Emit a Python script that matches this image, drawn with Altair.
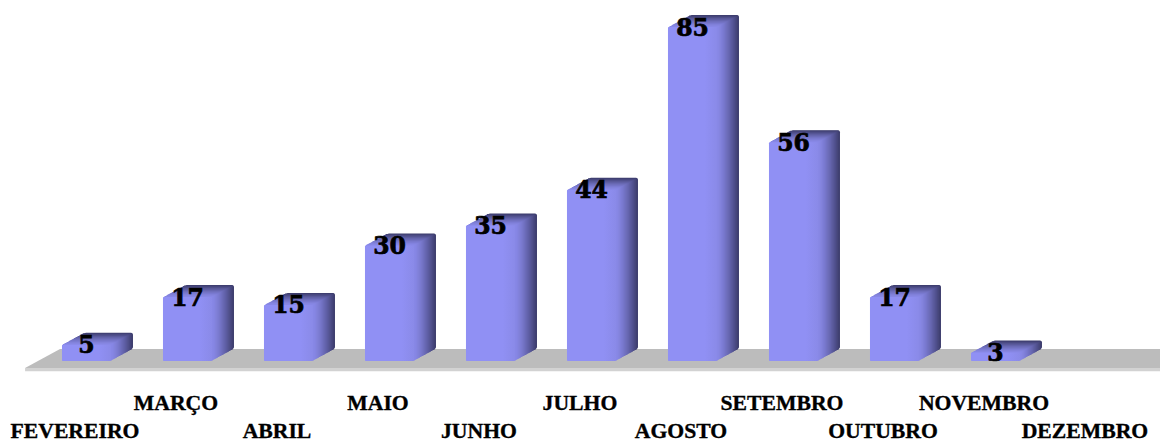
import altair as alt
import pandas as pd

months = ["FEVEREIRO", "MARÇO", "ABRIL", "MAIO", "JUNHO", "JULHO", "AGOSTO",
          "SETEMBRO", "OUTUBRO", "NOVEMBRO", "DEZEMBRO"]
values = [5, 17, 15, 30, 35, 44, 85, 56, 17, 3, None]
bar_base = 0.9  # visible foot of the 3D bars, in value units

# floor plate outline, in category / value units
floor_x = [-0.608, -0.262, 10.70, 10.75]
floor_top = [-0.9, 3.9, 3.9, 3.9]
floor_bot = [-0.9, -0.9, -0.9, -0.4]
lip_x = [-0.608, 10.70]
lip_top = [-0.9, -0.9]
lip_bot = [-1.7, -1.7]

half = 0.2426
df = pd.DataFrame({"month": months, "i": range(len(months)), "value": values})
df["x0"] = df["i"] - half
df["x1"] = df["i"] + half
df["base"] = bar_base
df["row"] = df["i"] % 2
bars = df.dropna(subset=["value"])

X = alt.Scale(domain=[-0.777, 10.629], nice=False, zero=False)
Y = alt.Scale(domain=[-19.52, 89.8], nice=False, zero=False)
xe = lambda f: alt.X(f, type="quantitative", scale=X, axis=None)
ye = lambda f: alt.Y(f, type="quantitative", scale=Y, axis=None)

floor = alt.Chart(pd.DataFrame({"x": floor_x, "t": floor_top, "b": floor_bot})).mark_area(
    color="#bcbcbc", interpolate="linear", clip=True
).encode(x=xe("x"), y=ye("t"), y2="b")
lip = alt.Chart(pd.DataFrame({"x": lip_x, "t": lip_top, "b": lip_bot})).mark_area(
    color="#d2d2d2", interpolate="linear", clip=True
).encode(x=xe("x"), y=ye("t"), y2="b")

DEPTH_X, DEPTH_Y = 22, 12
c0, c1 = (136, 136, 230), (60, 60, 108)
layers = [floor, lip]
for k in range(DEPTH_X, 0, -1):
    t = ((k - 1) / (DEPTH_X - 1)) ** 1.35
    col = "#%02x%02x%02x" % tuple(round(a + (b - a) * t) for a, b in zip(c0, c1))
    dy = -k * DEPTH_Y / DEPTH_X
    layers.append(
        alt.Chart(bars).mark_rect(
            color=col, xOffset=k, x2Offset=k, yOffset=dy, y2Offset=dy,
            cornerRadius=2 if k == DEPTH_X else 0,
        ).encode(x=xe("x0"), x2="x1", y=ye("value"), y2="base")
    )

front_fill = alt.Gradient(
    gradient="linear", x1=0, x2=1, y1=0, y2=0,
    stops=[alt.GradientStop(offset=0, color="#9090f4"),
           alt.GradientStop(offset=0.75, color="#9090f4"),
           alt.GradientStop(offset=1, color="#8a8ae8")],
)
front = alt.Chart(bars).mark_rect(fill=front_fill, cornerRadius=1).encode(
    x=xe("x0"), x2="x1", y=ye("value"), y2="base"
)

val = alt.Chart(bars).mark_text(
    font="DejaVu Serif", fontWeight="bold", fontSize=23.5, color="black", baseline="middle",
    stroke="black", strokeWidth=0.7, dy=1.5,
).encode(x=xe("i"), y=ye("value"), text=alt.Text("value:Q", format="d"))

lab_style = dict(font="Liberation Serif", fontWeight="bold", fontSize=21.7,
                 color="black", baseline="alphabetic", dx=-11.5,
                 stroke="black", strokeWidth=0.35)
lab_hi = alt.Chart(df[df.row == 1]).mark_text(**lab_style).encode(
    x=xe("i"), y=alt.Y(datum=-11.46, scale=Y, axis=None), text="month:N")
lab_lo = alt.Chart(df[df.row == 0]).mark_text(**lab_style).encode(
    x=xe("i"), y=alt.Y(datum=-18.39, scale=Y, axis=None), text="month:N")

chart = alt.layer(*layers, front, val, lab_hi, lab_lo).properties(
    width=1152, height=434, padding=0, autosize=alt.AutoSizeParams(type="none"),
    background="white",
).configure_view(stroke=None)

chart.save("out.html", embed_options={"renderer": "svg", "actions": False})
